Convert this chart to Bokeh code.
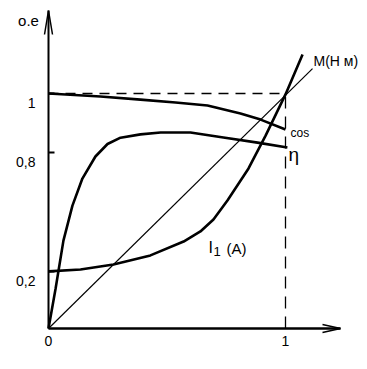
from bokeh.plotting import figure
from bokeh.models import Range1d, LinearAxis, FixedTicker, Label
from bokeh.embed import file_html
from bokeh.resources import INLINE

# ---- data (relative units) ----
COS_X = [0.0, 0.219, 0.388, 0.536, 0.671, 0.810, 0.895, 1.0]
COS_Y = [1.0, 0.987, 0.974, 0.962, 0.949, 0.915, 0.889, 0.847]

ETA_X = [0.0, 0.030, 0.063, 0.101, 0.143, 0.198, 0.249, 0.304, 0.388, 0.473, 0.599, 0.738, 0.882, 1.008]
ETA_Y = [0.0, 0.170, 0.374, 0.523, 0.638, 0.732, 0.785, 0.812, 0.826, 0.834, 0.834, 0.813, 0.791, 0.770]

I1_X = [0.0, 0.135, 0.274, 0.430, 0.570, 0.641, 0.696, 0.755, 0.844, 0.916, 1.0, 1.072]
I1_Y = [0.243, 0.251, 0.272, 0.311, 0.370, 0.413, 0.464, 0.545, 0.681, 0.821, 0.996, 1.166]

M_X = [0.0, 1.114]
M_Y = [0.0, 1.106]

RATED_X = 1.0
RATED_Y = 1.0

X_TICKS = [0.0, 1.0]
X_LABELS = ["0", "1"]
Y_TICKS = [0.243, 0.749, 1.0]
Y_LABELS = ["0,2", "0,8", "1"]

# ---- layout ----
W, H = 362, 362
OX, OY = 48, 328          # origin position on the canvas (px from left / top)
SX, SY = 237.0, 235.0     # pixels per unit
X_END = 292 / SX          # end of drawn x axis
Y_END = 318 / SY          # end of drawn y axis
FONT = "Liberation Sans"

p = figure(width=W, height=H, output_backend="svg", toolbar_location=None,
           x_range=Range1d(-OX / SX, (W - OX) / SX),
           y_range=Range1d(-(H - OY) / SY, OY / SY),
           x_axis_type=None, y_axis_type=None, min_border=0)
p.outline_line_color = None
p.background_fill_color = "white"
p.border_fill_color = "white"

xaxis = LinearAxis(fixed_location=0, bounds=(0, X_END),
                   ticker=FixedTicker(ticks=X_TICKS),
                   major_label_overrides={t: l for t, l in zip(X_TICKS, X_LABELS)})
xaxis.axis_line_width = 2.5
xaxis.axis_line_color = "black"
xaxis.major_tick_in = 0
xaxis.major_tick_out = 0
xaxis.minor_tick_in = 0
xaxis.minor_tick_out = 0
xaxis.major_label_standoff = 7
xaxis.major_label_text_font = FONT
xaxis.major_label_text_font_size = "14px"
xaxis.major_label_text_color = "black"
p.add_layout(xaxis, "below")

yaxis = LinearAxis(fixed_location=0, bounds=(0, Y_END),
                   ticker=FixedTicker(ticks=Y_TICKS),
                   major_label_overrides={t: "\n" + l for t, l in zip(Y_TICKS, Y_LABELS)})
yaxis.axis_line_width = 2
yaxis.axis_line_color = "black"
yaxis.major_tick_in = 6
yaxis.major_tick_out = 0
yaxis.major_tick_line_width = 2
yaxis.minor_tick_in = 0
yaxis.minor_tick_out = 0
yaxis.major_label_standoff = 13
yaxis.major_label_text_font = FONT
yaxis.major_label_text_font_size = "14px"
yaxis.major_label_text_color = "black"
p.add_layout(yaxis, "left")

# arrow heads
p.line([X_END - 18 / SX, X_END, X_END - 18 / SX], [4 / SY, 0, -4 / SY], line_color="black", line_width=1.5)
p.line([-4 / SX, 0, 4 / SX], [Y_END - 24 / SY, Y_END, Y_END - 24 / SY], line_color="black", line_width=1.5)

# rated point guide lines
p.line([0, RATED_X], [RATED_Y, RATED_Y], line_color="black", line_width=1.3, line_dash="10 7")
p.line([RATED_X, RATED_X], [0, RATED_Y], line_color="black", line_width=1.3, line_dash="12 8")

# curves
p.line(M_X, M_Y, line_color="black", line_width=1.2)
p.line(COS_X, COS_Y, line_color="black", line_width=2.6)
p.line(ETA_X, ETA_Y, line_color="black", line_width=2.6)
p.line(I1_X, I1_Y, line_color="black", line_width=2.6)

def lab(x, y, text, size, align="left"):
    p.add_layout(Label(x=x, y=y, text=text, text_font=FONT,
                       text_font_size=size, text_color="black",
                       text_align=align, text_baseline="alphabetic"))

lab(-20 / SX, 308 / SY, "о.е", "15px", "center")
lab(265 / SX, 268 / SY, "М(Н м)", "14px")
lab(242 / SX, 196 / SY, "cos", "12px")
lab(240 / SX, 174 / SY, "η", "19px")
lab(160 / SX, 81 / SY, "I", "16px")
lab(165 / SX, 77 / SY, "1", "13px")
lab(178 / SX, 80 / SY, "(A)", "15px")

open("out.html", "w").write(file_html(p, INLINE))
